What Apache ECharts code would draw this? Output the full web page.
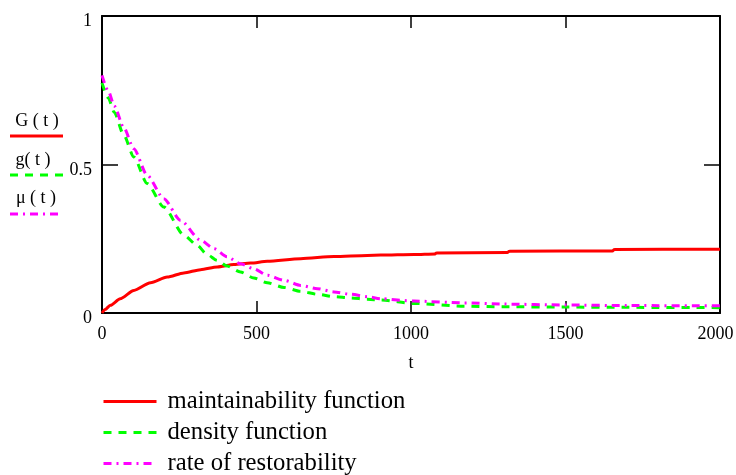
<!DOCTYPE html>
<html>
<head>
<meta charset="utf-8">
<script src="https://cdn.jsdelivr.net/npm/echarts@6/dist/echarts.min.js"></script>
<style>html,body{margin:0;padding:0;background:#fff;}#c{width:736px;height:475px;}</style>
</head>
<body>
<div id="c"></div>
<script>
// ---- data ----
var seriesNames = ['maintainability function', 'density function', 'rate of restorability'];
var leftLabels = ['G ( t )', 'g( t )', '\u03bc ( t )'];
var xTicks = [0, 500, 1000, 1500, 2000];
var yTicks = [0, 0.5, 1];

var tG = [0, 10, 27, 59, 103, 157, 211, 265, 319, 373, 427, 481, 535, 643, 751, 859, 902, 1010, 1078, 1082, 1312, 1318, 1652, 1658, 2000];
var G  = [0, 0.012, 0.026, 0.048, 0.076, 0.102, 0.121, 0.135, 0.146, 0.155, 0.163, 0.168, 0.174, 0.183, 0.190, 0.194, 0.195, 0.197, 0.199, 0.202, 0.204, 0.208, 0.209, 0.214, 0.215];

var tg = [0, 20, 40, 70, 103, 146, 200, 265, 308, 340, 373, 405, 448, 491, 535, 589, 643, 697, 751, 805, 859, 902, 1010, 1172, 1300, 1500, 1700, 2000];
var g  = [0.775, 0.725, 0.675, 0.600, 0.525, 0.436, 0.357, 0.262, 0.228, 0.197, 0.177, 0.158, 0.138, 0.118, 0.102, 0.086, 0.073, 0.063, 0.055, 0.051, 0.046, 0.044, 0.032, 0.023, 0.021, 0.020, 0.019, 0.018];

var tMu = [0, 20, 40, 70, 103, 146, 200, 254, 319, 362, 405, 448, 491, 535, 589, 643, 697, 751, 805, 859, 902, 1010, 1172, 1300, 1500, 1700, 2000];
var mu  = [0.80, 0.748, 0.697, 0.625, 0.553, 0.464, 0.385, 0.312, 0.245, 0.217, 0.189, 0.166, 0.149, 0.127, 0.110, 0.093, 0.082, 0.071, 0.063, 0.055, 0.048, 0.040, 0.034, 0.030, 0.027, 0.025, 0.024];

// ---- styles ----
var colors = ['#ff0000', '#00ff00', '#ff00ff'];
var dashes = ['solid', [8, 7], [8, 5, 2, 5]];
var serif = 'Liberation Serif';

function pairs(xs, ys) { return xs.map(function (x, i) { return [x, ys[i]]; }); }
var dataSets = [pairs(tG, G), pairs(tg, g), pairs(tMu, mu)];

var chart = echarts.init(document.getElementById('c'), null, { renderer: 'canvas' });

function xAxisCfg(pos, showLabel) {
  return {
    type: 'value', position: pos, min: 0, max: 2000, interval: 500,
    name: showLabel ? 't' : '', nameLocation: 'middle', nameGap: 41,
    nameTextStyle: { fontFamily: serif, fontSize: 18, color: '#000' },
    axisLine: { show: true, onZero: false, lineStyle: { color: '#000', width: 2 } },
    axisTick: { show: true, inside: true, length: 12, lineStyle: { color: '#000', width: 1.5 } },
    axisLabel: { show: showLabel, margin: 12, fontFamily: serif, fontSize: 18, color: '#000',
      hideOverlap: false,
      rich: { r: { fontFamily: serif, fontSize: 18, color: '#000', padding: [0, 9, 0, 0] } },
      formatter: function (v) {
        if (xTicks.indexOf(v) < 0) return '';
        return v === xTicks[xTicks.length - 1] ? '{r|' + v + '}' : String(v);
      } },
    splitLine: { show: false }
  };
}
function yAxisCfg(pos, showLabel) {
  return {
    type: 'value', position: pos, min: 0, max: 1, interval: 0.5,
    axisLine: { show: true, onZero: false, lineStyle: { color: '#000', width: 2 } },
    axisTick: { show: true, inside: true, length: 16, lineStyle: { color: '#000', width: 1.5 } },
    axisLabel: { show: showLabel, margin: 10, fontFamily: serif, fontSize: 18, color: '#000',
      verticalAlign: 'top', lineHeight: 11,
      formatter: function (v) { return yTicks.indexOf(v) >= 0 ? String(v) : ''; } },
    splitLine: { show: false }
  };
}

var series = seriesNames.map(function (n, i) {
  return {
    name: n, type: 'line', xAxisIndex: 0, yAxisIndex: 0,
    data: dataSets[i], symbol: 'none', smooth: 0.25, smoothMonotone: 'x',
    lineStyle: { color: colors[i], width: 3, type: dashes[i], cap: 'butt' },
    itemStyle: { color: colors[i] },
    animation: false, z: 2 + i
  };
});

// left-side Mathcad-style labels
var labelY = [121, 160, 198];
var labelX = [37, 33, 36];
var lineY = [136, 175, 214];
var graphics = [];
leftLabels.forEach(function (txt, i) {
  graphics.push({
    type: 'text', x: labelX[i], y: labelY[i],
    style: { text: txt, fill: '#000', font: '18px ' + serif, align: 'center', verticalAlign: 'middle' }
  });
  graphics.push({
    type: 'line',
    shape: { x1: 10, y1: lineY[i], x2: 63, y2: lineY[i] },
    style: { stroke: colors[i], lineWidth: 3, lineDash: dashes[i] === 'solid' ? null : dashes[i] }
  });
});

chart.setOption({
  backgroundColor: '#fff',
  animation: false,
  grid: { left: 102, right: 16, top: 16, bottom: 162, containLabel: false, outerBoundsMode: 'none' },
  xAxis: [xAxisCfg('bottom', true), xAxisCfg('top', false)],
  yAxis: [yAxisCfg('left', true), yAxisCfg('right', false)],
  legend: {
    orient: 'vertical', left: 102, top: 389, height: 120, width: 400, padding: 0,
    itemWidth: 53, itemHeight: 14, itemGap: 6,
    selectedMode: false,
    itemStyle: { color: 'rgba(0,0,0,0)', borderWidth: 0, opacity: 0 },
    textStyle: { fontFamily: serif, fontSize: 24.7, color: '#000', lineHeight: 24, padding: [0, 0, 0, 6] },
    data: seriesNames.map(function (n, i) {
      return { name: n, lineStyle: { color: colors[i], width: 3, type: dashes[i], opacity: 1 } };
    })
  },
  graphic: graphics,
  series: series
});
</script>
</body>
</html>
